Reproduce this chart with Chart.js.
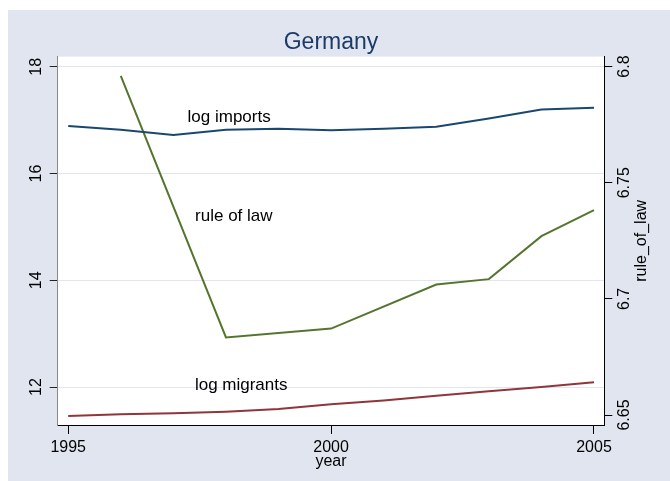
<!DOCTYPE html>
<html>
<head>
<meta charset="utf-8">
<script src="https://cdn.jsdelivr.net/npm/chart.js@4.4.1/dist/chart.umd.min.js"></script>
<style>
  html, body { margin: 0; padding: 0; background: #fff; }
  #wrap { width: 670px; height: 481px; }
</style>
</head>
<body>
<div id="wrap"><canvas id="chart" width="670" height="481"></canvas></div>
<script>
// datos (Alemania)
const years = [1995, 1996, 1997, 1998, 1999, 2000, 2001, 2002, 2003, 2004, 2005];
const logImports = [16.89, 16.82, 16.72, 16.82, 16.84, 16.81, 16.84, 16.875, 17.03, 17.20, 17.23];
const logMigrants = [11.46, 11.49, 11.51, 11.54, 11.59, 11.68, 11.75, 11.84, 11.92, 12.00, 12.09];
const ruleOfLaw = [null, 6.796, null, 6.6834, null, 6.6872, null, 6.7062, 6.7085, 6.727, 6.7382];

const xTicks = [1995, 2000, 2005];
const leftTicks = [12, 14, 16, 18];
const rightTicks = [6.65, 6.7, 6.75, 6.8];

const FONT = "'Liberation Sans', Arial, sans-serif";
const BG = '#e0e5ef';

// etiquetas de texto dentro del gráfico (coordenadas en datos)
const notes = [
    { text: 'log imports', x: 1998.06, y: 17.06 },
    { text: 'rule of law', x: 1998.15, y: 15.2 },
    { text: 'log migrants', x: 1998.29, y: 12.03 }
];

const toPoints = arr => years.map((yr, i) => ({ x: yr, y: arr[i] }));

const backgroundPlugin = {
    id: 'bg',
    beforeDraw(chart) {
        const ctx = chart.ctx;
        const a = chart.chartArea;
        ctx.save();
        ctx.fillStyle = '#ffffff';
        ctx.fillRect(0, 0, chart.width, chart.height);
        ctx.fillStyle = BG;
        ctx.fillRect(8, 10, chart.width - 8, chart.height - 10);
        ctx.fillStyle = '#ffffff';
        ctx.fillRect(a.left, a.top, a.right - a.left, a.bottom - a.top);
        ctx.restore();
    }
};

const textPlugin = {
    id: 'texts',
    afterDraw(chart) {
        const ctx = chart.ctx;
        const xs = chart.scales.x;
        const ys = chart.scales.y;
        ctx.save();
        ctx.fillStyle = '#000';
        ctx.font = '17px ' + FONT;
        ctx.textAlign = 'center';
        ctx.textBaseline = 'middle';
        notes.forEach(n => {
            ctx.fillText(n.text, xs.getPixelForValue(n.x), ys.getPixelForValue(n.y));
        });

        // título del eje derecho
        const a = chart.chartArea;
        ctx.font = '16px ' + FONT;
        ctx.translate(642, (a.top + a.bottom) / 2);
        ctx.rotate(-Math.PI / 2);
        ctx.fillText('rule_of_law', 0, 0);
        ctx.restore();
    }
};

new Chart(document.getElementById('chart'), {
    type: 'line',
    data: {
        datasets: [{
            label: 'log imports',
            data: toPoints(logImports),
            borderColor: '#1a476f',
            yAxisID: 'y'
        }, {
            label: 'log migrants',
            data: toPoints(logMigrants),
            borderColor: '#90353b',
            yAxisID: 'y'
        }, {
            label: 'rule of law',
            data: toPoints(ruleOfLaw),
            borderColor: '#55752f',
            yAxisID: 'y1',
            spanGaps: true
        }]
    },
    options: {
        responsive: false,
        devicePixelRatio: 1,
        animation: false,
        layout: { padding: { left: 0, right: 8, top: 0, bottom: 0 } },
        elements: {
            line: { borderWidth: 2, tension: 0 },
            point: { radius: 0 }
        },
        plugins: {
            legend: { display: false },
            tooltip: { enabled: false },
            title: {
                display: true,
                text: 'Germany',
                color: '#1c3a68',
                font: { family: FONT, size: 23, weight: 'normal' },
                padding: { top: 29, bottom: 0 }
            }
        },
        scales: {
            x: {
                type: 'linear',
                min: 1994.8,
                max: 2005.196,
                afterBuildTicks: s => { s.ticks = xTicks.map(v => ({ value: v })); },
                afterFit: s => { s.height = 56; },
                ticks: {
                    color: '#000',
                    padding: 4,
                    maxRotation: 0,
                    font: { family: FONT, size: 16 },
                    callback: v => String(v)
                },
                grid: { drawOnChartArea: false, tickLength: 9, tickColor: '#000' },
                border: { color: '#000', width: 1 },
                title: {
                    display: true,
                    text: 'year',
                    color: '#000',
                    font: { family: FONT, size: 16 },
                    padding: { top: 0, bottom: 9.4 }
                }
            },
            y: {
                position: 'left',
                min: 11.29,
                max: 18.19,
                afterBuildTicks: s => { s.ticks = leftTicks.map(v => ({ value: v })); },
                afterFit: s => { s.width = 57.7; },
                ticks: {
                    color: '#000',
                    minRotation: 90,
                    maxRotation: 90,
                    crossAlign: 'center',
                    padding: 3.8,
                    font: { family: FONT, size: 16 }
                },
                grid: { color: '#e0e5ef', tickLength: 8, tickColor: '#222' },
                border: { color: '#888', width: 1 }
            },
            y1: {
                position: 'right',
                min: 6.6457,
                max: 6.8043,
                afterBuildTicks: s => { s.ticks = rightTicks.map(v => ({ value: v })); },
                afterFit: s => { s.width = 57.7; },
                ticks: {
                    color: '#000',
                    minRotation: 90,
                    maxRotation: 90,
                    crossAlign: 'center',
                    padding: -3.4,
                    font: { family: FONT, size: 16 },
                    callback: v => String(v)
                },
                grid: { drawOnChartArea: false, tickLength: 8, tickColor: '#000' },
                border: { color: '#000', width: 1 }
            }
        }
    },
    plugins: [backgroundPlugin, textPlugin]
});
</script>
</body>
</html>
